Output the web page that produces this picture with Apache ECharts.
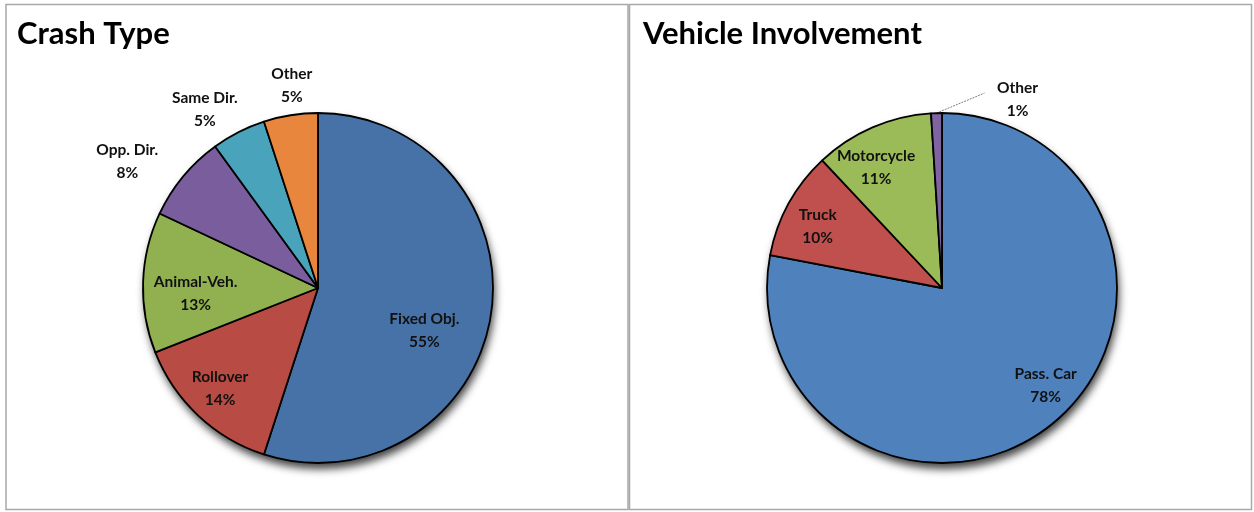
<!DOCTYPE html>
<html>
<head>
<meta charset="utf-8">
<script src="https://cdn.jsdelivr.net/npm/echarts@6/dist/echarts.min.js"></script>
<style>
html,body{margin:0;padding:0;background:#fff;}
#chart{width:1254px;height:512px;}
</style>
</head>
<body>
<div id="chart"></div>
<script>
// ---- Data ----
const crashTitle = 'Crash Type';
const crashCategories = ['Fixed Obj.', 'Rollover', 'Animal-Veh.', 'Opp. Dir.', 'Same Dir.', 'Other'];
const crashValues = [55, 14, 13, 8, 5, 5];

const vehicleTitle = 'Vehicle Involvement';
const vehicleCategories = ['Pass. Car', 'Truck', 'Motorcycle', 'Other'];
const vehicleValues = [78, 10, 11, 1];

// ---- Styles ----
const crashColors = ['#4772A7', '#B84B43', '#91B150', '#7A5D9D', '#49A3BB', '#E9863D'];
const vehicleColors = ['#4F81BD', '#C0504D', '#9BBB59', '#8064A2'];
// label offsets from the default 'inside' anchor (px)
const crashLabelOffsets = [[17, 28], [-36, 35], [-32, 8], [-121, -69], [-72, -98], [-12, -113]];
const vehicleLabelOffsets = [[46, 28], [-45, -18], [-30, -37], [81, -14]];
const vehicleLeaderEnd = [48, -20];

const FONT = 'Lato, "Open Sans", sans-serif';
const R = 175;
const leftCenter = [318, 288];
const rightCenter = [942, 288];

function buildData(cats, vals, colors) {
  return cats.map((c, i) => ({ name: c, value: vals[i], itemStyle: { color: colors[i] } }));
}

const labelBase = {
  show: true,
  position: 'inside',
  formatter: p => p.name + '\n' + p.value + '%',
  color: '#111',
  fontFamily: FONT,
  fontWeight: 'bold',
  fontSize: 15.5,
  lineHeight: 23,
  align: 'center',
  verticalAlign: 'middle'
};

function shadowSeries(center) {
  return {
    type: 'pie', silent: true, radius: R, center: center, z: 1,
    label: { show: false }, labelLine: { show: false },
    itemStyle: { color: '#ffffff', shadowBlur: 9, shadowOffsetY: 6, shadowOffsetX: 2, shadowColor: 'rgba(0,0,0,0.75)' },
    data: [{ value: 1 }], animation: false
  };
}

const vehicleData = buildData(vehicleCategories, vehicleValues, vehicleColors);
vehicleData[3].label = { position: 'outside' };
vehicleData[3].labelLine = { show: true, length: 10, length2: 10, lineStyle: { color: '#7f7f7f', type: [2, 1], width: 1 } };

const chart = echarts.init(document.getElementById('chart'), null, { renderer: 'canvas' });
chart.setOption({
  animation: false,
  backgroundColor: '#ffffff',
  graphic: [
    { type: 'rect', z: -10, shape: { x: 6, y: 4.5, width: 622, height: 505 }, style: { fill: 'none', stroke: '#a8a8a8', lineWidth: 1.5 } },
    { type: 'rect', z: -10, shape: { x: 629.5, y: 4.5, width: 622, height: 505 }, style: { fill: 'none', stroke: '#a8a8a8', lineWidth: 1.5 } }
  ],
  title: [
    { text: crashTitle, left: 12, top: 13, textStyle: { fontFamily: FONT, fontWeight: 'bold', fontSize: 31, color: '#000' } },
    { text: vehicleTitle, left: 638, top: 13, textStyle: { fontFamily: FONT, fontWeight: 'bold', fontSize: 31, color: '#000' } }
  ],
  series: [
    shadowSeries(leftCenter),
    shadowSeries(rightCenter),
    {
      type: 'pie', radius: R, center: leftCenter, startAngle: 90, clockwise: true, z: 2,
      itemStyle: { borderColor: '#000', borderWidth: 1.8 },
      label: labelBase,
      labelLine: { show: false },
      labelLayout: function (p) {
        const o = crashLabelOffsets[p.dataIndex];
        const r = p.labelRect;
        return { x: r.x + r.width / 2 + o[0], y: r.y + r.height / 2 + o[1], align: 'center', verticalAlign: 'middle' };
      },
      data: buildData(crashCategories, crashValues, crashColors)
    },
    {
      type: 'pie', radius: R, center: rightCenter, startAngle: 90, clockwise: true, z: 2,
      itemStyle: { borderColor: '#000', borderWidth: 1.8 },
      label: labelBase,
      labelLine: { show: false },
      labelLayout: function (p) {
        const o = vehicleLabelOffsets[p.dataIndex];
        if (p.labelLinePoints && p.labelLinePoints.length) {
          const p0 = p.labelLinePoints[0];
          return {
            x: p0[0] + o[0], y: p0[1] + o[1], align: 'center', verticalAlign: 'middle',
            labelLinePoints: [[p0[0], p0[1]], [p0[0] + vehicleLeaderEnd[0], p0[1] + vehicleLeaderEnd[1]]]
          };
        }
        const r = p.labelRect;
        return { x: r.x + r.width / 2 + o[0], y: r.y + r.height / 2 + o[1], align: 'center', verticalAlign: 'middle' };
      },
      data: vehicleData
    }
  ]
});
</script>
</body>
</html>
